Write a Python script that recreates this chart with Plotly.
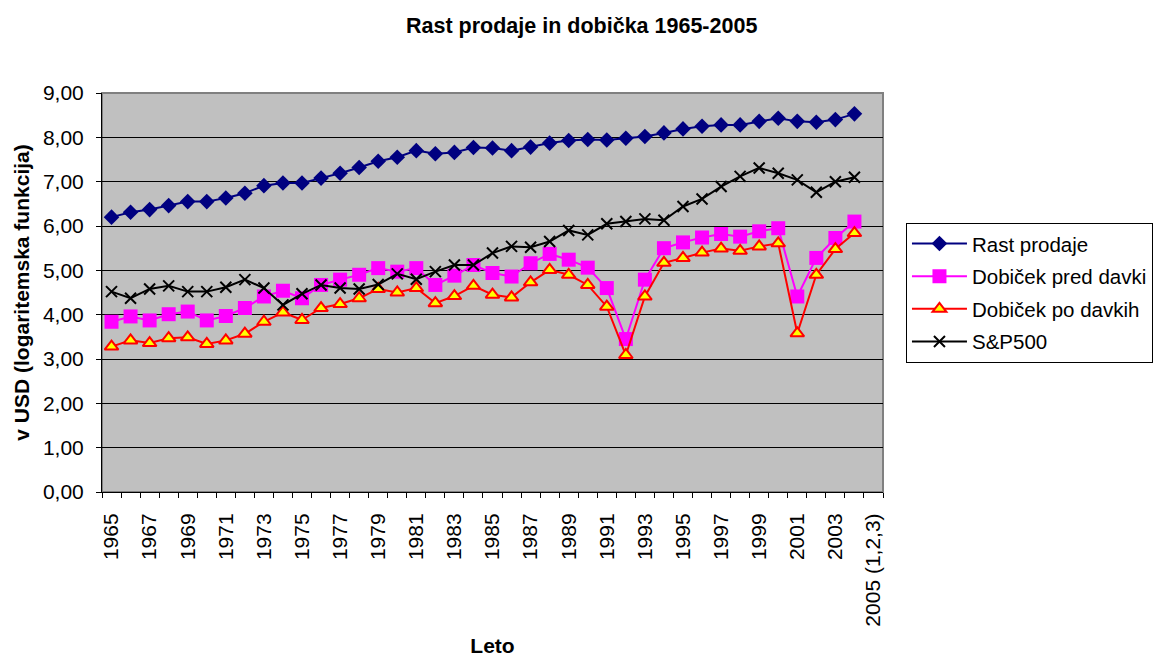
import plotly.graph_objects as go

years = [str(y) for y in range(1965, 2005)] + ["2005 (1,2,3)"]
tick_text = [y if i % 2 == 0 else "" for i, y in enumerate(years)]

rast_prodaje = [6.20, 6.31, 6.37, 6.46, 6.55, 6.55, 6.63, 6.74, 6.91, 6.97,
                6.97, 7.08, 7.19, 7.32, 7.46, 7.55, 7.70, 7.63, 7.66, 7.77,
                7.76, 7.70, 7.78, 7.87, 7.93, 7.95, 7.94, 7.98, 8.02, 8.10,
                8.19, 8.25, 8.28, 8.28, 8.36, 8.43, 8.36, 8.34, 8.40, 8.53]
dobicek_pred = [3.84, 3.96, 3.87, 4.01, 4.07, 3.87, 3.97, 4.15, 4.41, 4.54,
                4.37, 4.67, 4.79, 4.90, 5.05, 4.97, 5.05, 4.67, 4.88, 5.12,
                4.94, 4.86, 5.16, 5.37, 5.24, 5.06, 4.60, 3.45, 4.79, 5.50,
                5.63, 5.74, 5.82, 5.76, 5.88, 5.95, 4.41, 5.28, 5.73, 6.10]
dobicek_po = [3.28, 3.42, 3.36, 3.47, 3.49, 3.34, 3.42, 3.57, 3.84, 4.05,
              3.88, 4.15, 4.24, 4.37, 4.58, 4.50, 4.60, 4.26, 4.42, 4.65,
              4.45, 4.39, 4.73, 5.01, 4.90, 4.67, 4.18, 3.09, 4.41, 5.17,
              5.28, 5.40, 5.49, 5.44, 5.54, 5.61, 3.58, 4.90, 5.48, 5.84]
sp500 = [4.52, 4.37, 4.58, 4.65, 4.52, 4.52, 4.62, 4.79, 4.60, 4.22,
         4.47, 4.67, 4.60, 4.58, 4.68, 4.92, 4.80, 4.97, 5.12, 5.12,
         5.39, 5.54, 5.52, 5.65, 5.90, 5.80, 6.05, 6.10, 6.16, 6.13,
         6.44, 6.61, 6.89, 7.12, 7.31, 7.19, 7.04, 6.76, 7.00, 7.10]

FONT = "Liberation Sans, Arial, sans-serif"
xs = years[:len(rast_prodaje)]

# the page body has an 8px margin, so the figure is drawn 8px smaller
W, H = 1154, 649

fig = go.Figure()
fig.add_trace(go.Scatter(
    x=xs, y=rast_prodaje, name="Rast prodaje", mode="lines+markers",
    line=dict(color="#000080", width=2), legendgroup="a",
    marker=dict(symbol="diamond", size=12, color="#000080")))
fig.add_trace(go.Scatter(
    x=xs, y=dobicek_pred, name="Dobiček pred davki", mode="lines+markers",
    line=dict(color="#FF00FF", width=2), legendgroup="b",
    marker=dict(symbol="square", size=14, color="#FF00FF")))
fig.add_trace(go.Scatter(
    x=xs, y=dobicek_po, name="Dobiček po davkih", mode="lines+markers",
    line=dict(color="#FF0000", width=2), legendgroup="c",
    marker=dict(symbol="triangle-up", size=12, color="#FFFF00",
                line=dict(color="#FF0000", width=2))))
fig.add_trace(go.Scatter(
    x=xs, y=sp500, name="S&P500", mode="lines+markers",
    line=dict(color="#000000", width=2), legendgroup="d",
    marker=dict(symbol="x-thin", size=11, color="#000000",
                line=dict(color="#000000", width=2))))

fig.update_layout(
    width=W, height=H,
    margin=dict(l=94, r=279, t=85, b=165, autoexpand=False),
    paper_bgcolor="white", plot_bgcolor="#C0C0C0",
    separators=", ",
    font=dict(family=FONT, size=21, color="black"),
    title=dict(text="<b>Rast prodaje in dobička 1965-2005</b>",
               x=(581.7 - 8) / W, xanchor="center", y=1 - 17 / H, yanchor="middle",
               yref="container", font=dict(size=21.5, family=FONT)),
    legend=dict(x=1.0294, xanchor="left", y=0.675, yanchor="top",
                bordercolor="black", borderwidth=1, bgcolor="white",
                font=dict(size=20.5, family=FONT), traceorder="grouped",
                tracegroupgap=3, itemwidth=55),
    shapes=[dict(type="rect", xref="paper", yref="paper", x0=0, x1=1, y0=0, y1=1,
                 line=dict(color="#808080", width=2), layer="below")],
)
fig.update_xaxes(
    type="category", categoryorder="array", categoryarray=years,
    range=[-0.5, len(years) - 0.5], automargin=False,
    tickmode="array", tickvals=years, ticktext=tick_text,
    tickson="boundaries", ticks="outside", ticklen=5, tickcolor="black",
    tickangle=-90, tickfont=dict(size=21, family=FONT),
    showgrid=False, showline=True, linecolor="black", linewidth=1,
    ticklabelstandoff=12,
    title=dict(text="<b>Leto</b>", font=dict(size=21, family=FONT), standoff=14),
)
fig.update_yaxes(
    range=[0, 9], dtick=1, tick0=0, tickformat=".2f", automargin=False,
    ticks="outside", ticklen=5, tickcolor="black",
    showgrid=True, gridcolor="black", gridwidth=1,
    showline=True, linecolor="black", linewidth=1, zeroline=False,
    tickfont=dict(size=21, family=FONT), ticklabelstandoff=8,
    title=dict(text="<b>v USD (logaritemska funkcija)</b>",
               font=dict(size=21, family=FONT), standoff=7),
)

fig.write_html("out.html")
